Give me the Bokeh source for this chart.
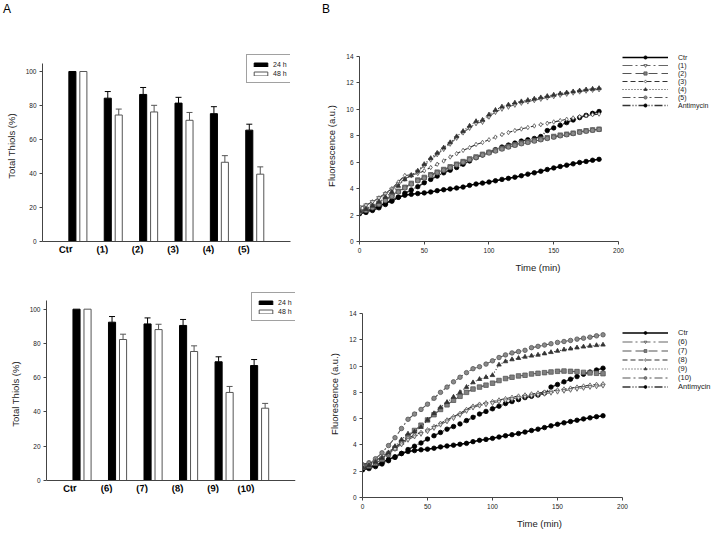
from bokeh.plotting import figure
from bokeh.models import Legend, LegendItem, FixedTicker, Whisker, ColumnDataSource, TeeHead, Range1d, Div
from bokeh.layouts import column, row
from bokeh.embed import file_html
from bokeh.resources import INLINE

FONT = "Liberation Sans"

# ---------------- Data: bar charts ----------------
cats_top = ["Ctr", "(1)", "(2)", "(3)", "(4)", "(5)"]
h24_top = [100, 84.3, 86.5, 81.4, 75.2, 65.5]
h24_top_err = [0, 3.9, 4.1, 3.4, 4.1, 3.5]
h48_top = [100, 74.4, 76.2, 71.3, 46.6, 39.6]
h48_top_err = [0, 3.5, 3.9, 4.6, 3.9, 4.3]

cats_bot = ["Ctr", "(6)", "(7)", "(8)", "(9)", "(10)"]
h24_bot = [100, 92.4, 91.4, 90.5, 69.3, 67.1]
h24_bot_err = [0, 3.3, 3.5, 3.5, 2.9, 3.5]
h48_bot = [100, 82.3, 88.1, 75.3, 51.4, 42.2]
h48_bot_err = [0, 3.1, 3.1, 3.3, 3.5, 2.8]

# ---------------- Data: fluorescence kinetics ----------------
time_min = [0, 5, 10, 15, 20, 25, 30, 35, 40, 45, 50, 55, 60, 65, 70, 75, 80, 85, 90,
            95, 100, 105, 110, 115, 120, 125, 130, 135, 140, 145, 150, 155, 160, 165,
            170, 175, 180, 185]

ctr = [2.2, 2.3, 2.45, 2.65, 2.9, 3.1, 3.35, 3.5, 3.57, 3.63, 3.68, 3.75, 3.85, 3.92,
       3.98, 4.05, 4.12, 4.25, 4.35, 4.42, 4.5, 4.6, 4.7, 4.78, 4.87, 4.98, 5.1, 5.2,
       5.32, 5.45, 5.57, 5.68, 5.78, 5.88, 5.98, 6.06, 6.15, 6.22]
antimycin = [2.1, 2.2, 2.35, 2.55, 2.8, 3.05, 3.35, 3.65, 3.9, 4.15, 4.45, 4.7, 4.95,
             5.2, 5.4, 5.6, 5.85, 6.1, 6.35, 6.55, 6.75, 6.95, 7.15, 7.3, 7.45, 7.6,
             7.7, 7.8, 7.95, 8.4, 8.6, 8.8, 9.0, 9.2, 9.38, 9.55, 9.7, 9.84]

c1 = [2.6, 2.75, 3.0, 3.3, 3.6, 3.95, 4.35, 4.75, 5.0, 5.3, 5.75, 6.2, 6.6, 7.0, 7.4,
      7.85, 8.25, 8.6, 8.95, 9.05, 9.45, 9.8, 10.05, 10.2, 10.35, 10.5, 10.6, 10.7,
      10.8, 10.9, 11.0, 11.1, 11.18, 11.27, 11.35, 11.42, 11.48, 11.52]
c2 = [2.3, 2.45, 2.65, 2.9, 3.2, 3.5, 3.8, 4.1, 4.4, 4.65, 4.85, 5.05, 5.25, 5.45, 5.65,
      5.85, 6.05, 6.25, 6.4, 6.6, 6.75, 6.9, 7.05, 7.2, 7.32, 7.45, 7.55, 7.65, 7.75,
      7.85, 7.95, 8.05, 8.12, 8.2, 8.3, 8.38, 8.45, 8.5]
c3 = [2.6, 2.75, 3.0, 3.3, 3.65, 4.0, 4.5, 5.0, 5.05, 5.15, 5.35, 5.6, 5.85, 6.1, 6.4,
      6.65, 6.9, 7.1, 7.35, 7.5, 7.7, 7.9, 8.1, 8.25, 8.4, 8.52, 8.63, 8.75, 8.85, 8.95,
      9.05, 9.15, 9.25, 9.35, 9.45, 9.52, 9.6, 9.65]
c4 = [2.3, 2.45, 2.7, 3.0, 3.35, 3.75, 4.2, 4.7, 5.0, 5.35, 5.85, 6.3, 6.7, 7.1, 7.5,
      7.95, 8.35, 8.75, 9.1, 9.2, 9.6, 9.95, 10.2, 10.35, 10.5, 10.6, 10.7, 10.8, 10.9,
      11.0, 11.1, 11.2, 11.27, 11.35, 11.42, 11.5, 11.55, 11.6]
c5 = [2.2, 2.35, 2.55, 2.8, 3.1, 3.4, 3.75, 4.05, 4.35, 4.6, 4.8, 5.0, 5.2, 5.4, 5.6,
      5.8, 6.0, 6.2, 6.35, 6.55, 6.7, 6.85, 7.0, 7.15, 7.28, 7.4, 7.5, 7.6, 7.7, 7.8,
      7.9, 8.0, 8.08, 8.17, 8.27, 8.35, 8.42, 8.48]

c6 = [2.4, 2.5, 2.7, 3.0, 3.35, 3.7, 4.05, 4.4, 4.65, 4.85, 5.05, 5.3, 5.55, 5.8, 6.05,
      6.3, 6.6, 6.85, 7.0, 7.1, 7.2, 7.3, 7.4, 7.5, 7.6, 7.68, 7.76, 7.83, 7.9, 7.98,
      8.06, 8.13, 8.2, 8.28, 8.35, 8.42, 8.47, 8.52]
c7 = [2.3, 2.4, 2.6, 2.9, 3.3, 3.75, 4.2, 4.65, 5.1, 5.5, 5.9, 6.3, 6.7, 7.05, 7.4, 7.7,
      8.0, 8.25, 8.4, 8.55, 8.7, 8.9, 9.05, 9.15, 9.25, 9.3, 9.4, 9.45, 9.5, 9.55, 9.6,
      9.62, 9.6, 9.58, 9.52, 9.48, 9.45, 9.42]
c8 = [2.5, 2.6, 2.8, 3.1, 3.45, 3.8, 4.15, 4.5, 4.75, 4.95, 5.15, 5.4, 5.65, 5.9, 6.15,
      6.4, 6.7, 6.95, 7.1, 7.2, 7.3, 7.42, 7.52, 7.62, 7.72, 7.8, 7.88, 7.95, 8.02, 8.1,
      8.18, 8.25, 8.32, 8.4, 8.48, 8.55, 8.6, 8.65]
c9 = [2.3, 2.45, 2.7, 3.0, 3.4, 3.9, 4.4, 4.85, 5.0, 5.35, 5.9, 6.4, 6.85, 7.25, 7.65,
      8.0, 8.4, 8.75, 9.0, 9.15, 9.3, 10.1, 10.35, 10.5, 10.6, 10.7, 10.78, 10.85,
      10.95, 11.05, 11.15, 11.25, 11.32, 11.4, 11.47, 11.53, 11.58, 11.62]
c10 = [2.5, 2.65, 2.95, 3.4, 3.95, 4.55, 5.25, 5.95, 6.35, 6.7, 7.1, 7.55, 8.0, 8.4,
       8.8, 9.15, 9.5, 9.8, 9.95, 10.15, 10.4, 10.65, 10.85, 11.0, 11.1, 11.2, 11.4,
       11.5, 11.6, 11.7, 11.8, 11.87, 11.95, 12.05, 12.12, 12.2, 12.3, 12.38]

legend_top = ["Ctr", "(1)", "(2)", "(3)", "(4)", "(5)", "Antimycin"]
legend_bot = ["Ctr", "(6)", "(7)", "(8)", "(9)", "(10)", "Antimycin"]

# series styles: (line color, dash, marker, fill, marker line color)
styles = [
    ("black", "solid", "circle", "black", "black"),
    ("#666666", "10 3 2 3", "inverted_triangle", "#dddddd", "#555555"),
    ("#555555", "9 4", "square", "#808080", "#555555"),
    ("#333333", "5 3", "diamond", "white", "#555555"),
    ("#333333", "1 2", "triangle", "#333333", "#333333"),
    ("#555555", "8 3 2 3", "circle", "#8a8a8a", "#555555"),
    ("#333333", "8 2 1 2 1 2", "circle", "black", "black"),
]


def style_axes(p):
    for ax in (p.xaxis[0], p.yaxis[0]):
        ax.axis_line_color = "#444444"
        ax.major_tick_line_color = "#444444"
        ax.minor_tick_line_color = None
        ax.major_tick_out = 3
        ax.major_tick_in = 0
        ax.major_label_text_font = FONT
        ax.major_label_text_font_size = "6.5px"
        ax.major_label_text_color = "#222222"
        ax.axis_label_text_font = FONT
        ax.axis_label_text_font_size = "9.5px"
        ax.axis_label_text_font_style = "normal"
        ax.axis_label_text_color = "#222222"
        ax.major_label_standoff = 3
    p.xgrid.visible = False
    p.ygrid.visible = False
    p.outline_line_color = None


def bar_chart(cats, v24, e24, v48, e48, w, h, borders, legend_loc, ylim, ystart, ytop):
    p = figure(width=w, height=h, output_backend="svg", toolbar_location=None, title=None,
               x_range=Range1d(-0.85, 6.16), y_range=Range1d(ystart, ytop))
    p.min_border_left, p.min_border_right, p.min_border_top, p.min_border_bottom = borders
    style_axes(p)
    idx = list(range(len(cats)))
    x24 = [i - 0.005 for i in idx]
    x48 = [i + 0.305 for i in idx]
    r24 = p.vbar(x=x24, top=v24, width=0.2, fill_color="black", line_color="black")
    r48 = p.vbar(x=x48, top=v48, width=0.2, fill_color="white", line_color="#555555")
    for xs, vals, errs, col in ((x24, v24, e24, "black"), (x48, v48, e48, "#555555")):
        xs2 = [x for x, e in zip(xs, errs) if e > 0]
        lo = [v for v, e in zip(vals, errs) if e > 0]
        hi = [v + e for v, e in zip(vals, errs) if e > 0]
        src = ColumnDataSource(dict(base=xs2, lower=lo, upper=hi))
        wsk = Whisker(source=src, base="base", lower="lower", upper="upper",
                      line_color=col, line_width=1,
                      upper_head=TeeHead(size=6, line_color=col, line_width=1),
                      lower_head=None)
        p.add_layout(wsk)
    p.xaxis.ticker = FixedTicker(ticks=idx)
    p.xaxis.major_label_overrides = {i: c for i, c in zip(idx, cats)}
    p.xaxis.major_tick_line_color = None
    p.xaxis.major_label_text_font_size = "9.5px"
    p.xaxis.major_label_text_font_style = "bold"
    p.xaxis.major_label_text_color = "black"
    p.xaxis.major_label_orientation = 0.1
    p.xaxis.major_label_standoff = 4
    if ystart < 0:
        p.xaxis.fixed_location = 0
    p.yaxis.ticker = FixedTicker(ticks=[0, 20, 40, 60, 80, 100])
    p.yaxis.bounds = (0, ylim)
    p.yaxis.axis_label = "Total Thiols (%)"
    p.yaxis.axis_label_standoff = 6
    leg = Legend(items=[LegendItem(label="24 h", renderers=[r24]),
                        LegendItem(label="48 h", renderers=[r48])],
                 location=legend_loc, glyph_width=17, glyph_height=5,
                 label_height=8, label_width=10, spacing=1, padding=5, margin=0,
                 label_standoff=4, label_text_font=FONT, label_text_font_size="7px",
                 label_text_color="#222222",
                 border_line_color="#444444", border_line_width=1,
                 background_fill_color="white")
    p.add_layout(leg)
    return p


def line_chart(series, names, w, h, borders, legend_loc, fsize, rowh, xend, yend):
    p = figure(width=w, height=h, output_backend="svg", toolbar_location=None, title=None,
               x_range=Range1d(0, xend), y_range=Range1d(0, yend))
    p.min_border_left, p.min_border_right, p.min_border_top, p.min_border_bottom = borders
    style_axes(p)
    p.xaxis.ticker = FixedTicker(ticks=[0, 50, 100, 150, 200])
    p.yaxis.ticker = FixedTicker(ticks=[0, 2, 4, 6, 8, 10, 12, 14])
    p.xaxis.bounds = (0, 200)
    p.yaxis.bounds = (0, 14)
    p.xaxis.axis_label = "Time (min)"
    p.yaxis.axis_label = "Fluorescence (a.u.)"
    p.xaxis.axis_label_standoff = 6
    p.yaxis.axis_label_standoff = 6
    items = []
    order = [0, 6, 2, 5, 3, 1, 4]
    rends = {}
    for k in order:
        ys = series[k]
        lc, dash, mk, fc, mlc = styles[k]
        lw = 1.5 if k in (0, 6) else 1.1
        rl = p.line(time_min, ys, line_color=lc, line_dash=dash, line_width=lw)
        rs = p.scatter(time_min, ys, marker=mk, size=4.5, fill_color=fc,
                       line_color=mlc, line_width=0.8)
        rends[k] = (rl, rs)
    for k, name in enumerate(names):
        items.append(LegendItem(label=name, renderers=list(rends[k])))
    leg = Legend(items=items, location=legend_loc, glyph_width=46, glyph_height=rowh,
                 label_height=rowh, label_width=10, spacing=0, padding=0, margin=0,
                 label_standoff=10, label_text_font=FONT, label_text_font_size=fsize,
                 label_text_color="#222222",
                 border_line_color=None, background_fill_alpha=0)
    p.add_layout(leg)
    return p


LABEL_STYLE = "font-family:'Liberation Sans';font-size:12px;line-height:12px;color:black;"
divA = Div(text=f'<div style="{LABEL_STYLE}padding:3px 0 0 3px;">A</div>',
           width=310, height=20, margin=0)
divB = Div(text=f'<div style="{LABEL_STYLE}padding:3px 0 0 12px;">B</div>',
           width=406, height=20, margin=0)

# top row: shared frame y 50..241 ; bottom row: shared frame y 290..497
p1 = bar_chart(cats_top, h24_top, h24_top_err, h48_top, h48_top_err,
               310, 260, (42, 20, 30, 39), (204, 158), 104.7, 0, 112.35)
p2 = line_chart([ctr, c1, c2, c3, c4, c5, antimycin], legend_top,
                406, 260, (49, 0, 30, 39), (263, 132), "7px", 8, 275.7, 14.46)
p3 = bar_chart(cats_bot, h24_bot, h24_bot_err, h48_bot, h48_bot_err,
               310, 252, (46, 15, 10, 35), (205, 176), 105.3, -9.92, 110.9)
p4 = line_chart([ctr, c6, c7, c8, c9, c10, antimycin], legend_bot,
                406, 252, (52, 0, 10, 35), (260, 106), "7.5px", 7, 272.3, 15.75)

layout = column(row(divA, divB), row(p1, p2), row(p3, p4))
open("out.html", "w").write(file_html(layout, INLINE))
